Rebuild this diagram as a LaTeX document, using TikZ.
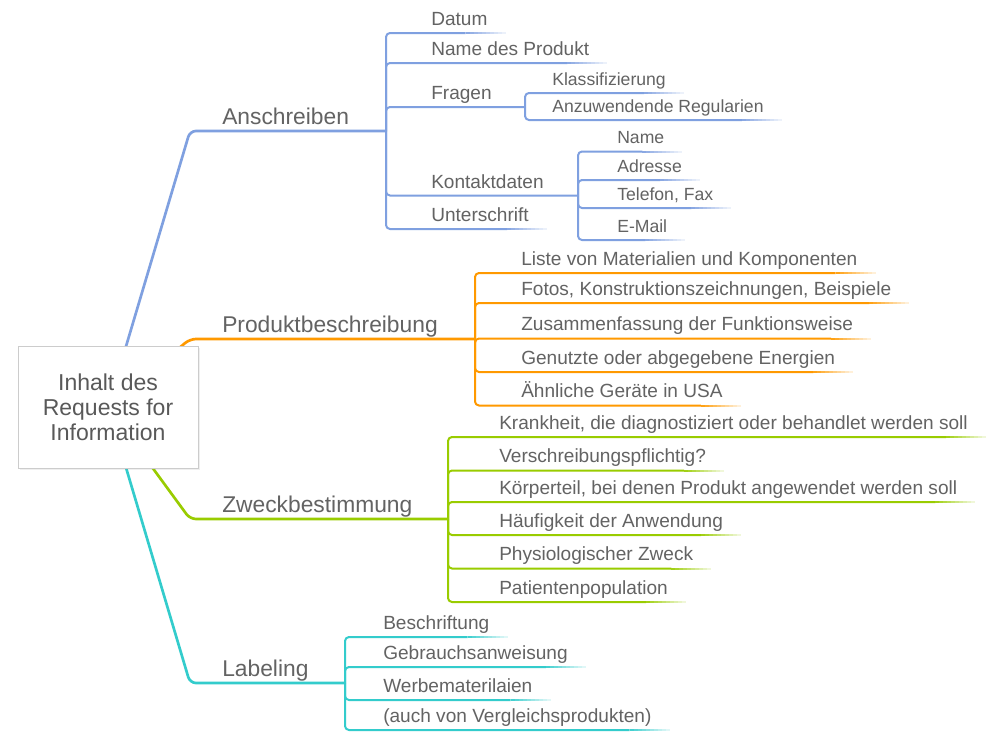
\documentclass[tikz,border=0pt]{standalone}
\usepackage{fontspec}
\setmainfont{Liberation Sans}
\usetikzlibrary{shadows,backgrounds}
\definecolor{cblue}{HTML}{7FA0E0}
\definecolor{corange}{HTML}{FF9900}
\definecolor{cgreen}{HTML}{99CC00}
\definecolor{ccyan}{HTML}{33CCCC}
\definecolor{txt}{HTML}{636363}
\newcommand\mmkid[3]{%
  \draw[#1, kidline] (#2) |- ([xshift=-30pt]#3.south east);
  \foreach \mmi in {1,...,10}{%
    \pgfmathsetmacro\mmpct{100-8.5*\mmi}%
    \draw[#1!\mmpct, line width=1.5pt] ([xshift=-33pt+3*\mmi pt]#3.south east) -- ([xshift=-30pt+3*\mmi pt]#3.south east);
  }}
\begin{document}
\begin{tikzpicture}[x=0.75pt,y=-0.75pt,
  leaf/.style={font=\fontsize{14.3}{17}\selectfont, text=txt, inner xsep=13.5pt, inner ysep=5.6pt, text depth=0pt, anchor=south west},
  subleaf/.style={leaf, font=\fontsize{13.2}{16}\selectfont},
  mainlabel/.style={font=\fontsize{17.1}{20}\selectfont, text=txt, inner sep=0pt, anchor=base west},
  midlabel/.style={font=\fontsize{14.3}{17}\selectfont, text=txt, inner sep=0pt, anchor=base west},
  mainline/.style={line width=2pt, rounded corners=4.5pt, line join=round},
  kidline/.style={line width=1.5pt, rounded corners=3pt, line join=round},
  rootbox/.style={draw=black!20, line width=0.6pt, fill=white, drop shadow={opacity=0.12, shadow xshift=1.5pt, shadow yshift=-1.5pt}, minimum width=135pt, minimum height=91.5pt, align=center, font=\fontsize{17.25}{18.9}\selectfont, text=black!65}
]
\useasboundingbox (0,0) rectangle (1000,746);
\begin{pgfonlayer}{background}
\fill[white] (0,0) rectangle (1000,746);
\end{pgfonlayer}

% root
\node[rootbox] (root) at (108,407) {Inhalt des\\Requests for\\Information};

% junction coordinates
\coordinate (A-c) at (190,131); \coordinate (A-j) at (386,131);
\coordinate (F-j) at (525,107); \coordinate (K-j) at (578,195.5);
\coordinate (P-c) at (190,339); \coordinate (P-j) at (475,339);
\coordinate (Z-c) at (190,519); \coordinate (Z-j) at (448,519);
\coordinate (L-c) at (190,683); \coordinate (L-j) at (345,683);

% main labels
\node[mainlabel] (anschreiben) at (222,124) {Anschreiben};
\node[mainlabel] (produkt) at (222,332) {Produktbeschreibung};
\node[mainlabel] (zweck) at (222,512) {Zweckbestimmung};
\node[mainlabel] (labeling) at (222,676) {Labeling};

% Anschreiben children
\node[leaf] (datum) at (413,33) {Datum};
\node[leaf] (nameprod) at (413,63) {Name des Produkt};
\node[midlabel] (fragen) at (431,99) {Fragen};
\node[midlabel] (kontakt) at (431,188) {Kontaktdaten};
\node[leaf] (unterschrift) at (413,229) {Unterschrift};
\node[subleaf] (klass) at (534,93) {Klassifizierung};
\node[subleaf] (regul) at (534,120) {Anzuwendende Regularien};
\node[subleaf] (kname) at (599,151.5) {Name};
\node[subleaf] (adresse) at (599,180) {Adresse};
\node[subleaf] (telefon) at (599,208) {Telefon, Fax};
\node[subleaf] (email) at (599,240) {E-Mail};

% Produktbeschreibung children
\node[leaf] (p1) at (503,273) {Liste von Materialien und Komponenten};
\node[leaf] (p2) at (503,303) {Fotos, Konstruktionszeichnungen, Beispiele};
\node[leaf] (p3) at (503,338.5) {Zusammenfassung der Funktionsweise};
\node[leaf] (p4) at (503,372) {Genutzte oder abgegebene Energien};
\node[leaf] (p5) at (503,405.5) {Ähnliche Geräte in USA};

% Zweckbestimmung children
\node[leaf] (z1) at (481,437) {Krankheit, die diagnostiziert oder behandlet werden soll};
\node[leaf] (z2) at (481,470.5) {Verschreibungspflichtig?};
\node[leaf] (z3) at (481,502) {Körperteil, bei denen Produkt angewendet werden soll};
\node[leaf] (z4) at (481,535) {Häufigkeit der Anwendung};
\node[leaf] (z5) at (481,568.5) {Physiologischer Zweck};
\node[leaf] (z6) at (481,602) {Patientenpopulation};

% Labeling children
\node[leaf] (l1) at (365,637) {Beschriftung};
\node[leaf] (l2) at (365,667) {Gebrauchsanweisung};
\node[leaf] (l3) at (365,700) {Werbematerilaien};
\node[leaf] (l4) at (365,730) {(auch von Vergleichsprodukten)};

\begin{pgfonlayer}{background}
% main branches
\draw[cblue, mainline] (root.center) -- (A-c) -- (A-j);
\draw[corange, mainline] (root.center) -- (P-c) -- (P-j);
\draw[cgreen, mainline] (root.center) -- (Z-c) -- (Z-j);
\draw[ccyan, mainline] (root.center) -- (L-c) -- (L-j);

% blue
\mmkid{cblue}{A-j}{datum}
\mmkid{cblue}{A-j}{nameprod}
\draw[cblue, kidline] (A-j) |- (F-j);
\draw[cblue, kidline] (A-j) |- (K-j);
\mmkid{cblue}{A-j}{unterschrift}
\mmkid{cblue}{F-j}{klass}
\mmkid{cblue}{F-j}{regul}
\mmkid{cblue}{K-j}{kname}
\mmkid{cblue}{K-j}{adresse}
\mmkid{cblue}{K-j}{telefon}
\mmkid{cblue}{K-j}{email}

% orange
\mmkid{corange}{P-j}{p1}
\mmkid{corange}{P-j}{p2}
\mmkid{corange}{P-j}{p3}
\mmkid{corange}{P-j}{p4}
\mmkid{corange}{P-j}{p5}

% green
\mmkid{cgreen}{Z-j}{z1}
\mmkid{cgreen}{Z-j}{z2}
\mmkid{cgreen}{Z-j}{z3}
\mmkid{cgreen}{Z-j}{z4}
\mmkid{cgreen}{Z-j}{z5}
\mmkid{cgreen}{Z-j}{z6}

% cyan
\mmkid{ccyan}{L-j}{l1}
\mmkid{ccyan}{L-j}{l2}
\mmkid{ccyan}{L-j}{l3}
\mmkid{ccyan}{L-j}{l4}
\end{pgfonlayer}
\end{tikzpicture}
\end{document}
